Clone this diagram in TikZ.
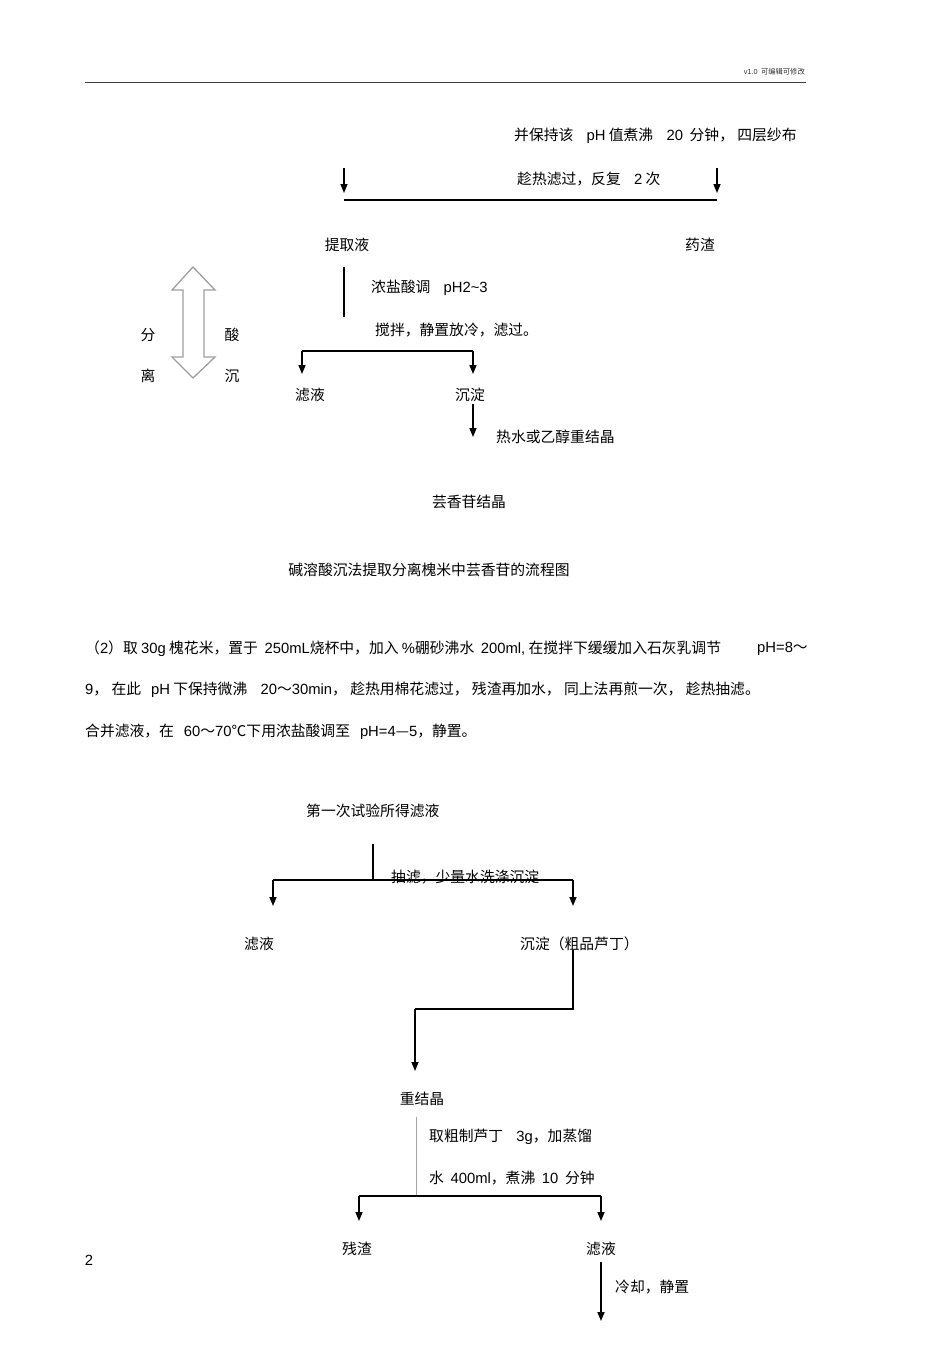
\documentclass[tikz,border=0pt]{standalone}
\usepackage{fontspec}
\setmainfont{Noto Sans CJK SC}
\newfontfamily\lat{Liberation Sans}
\usetikzlibrary{arrows.meta}
\newcommand\LA[1]{{\lat #1}}
\begin{document}
\begin{tikzpicture}[x=1pt,y=-1pt,
  txt/.style={inner sep=0pt, font=\fontsize{14.8}{17}\selectfont},
  lt/.style={txt, anchor=west},
  ln/.style={line width=1.5pt},
  thk/.style={line width=2.2pt},
  arr/.style={ln, -{Triangle[length=9pt,width=7pt]}},
  dbl/.style={draw=gray!75, line width=1.3pt, line join=miter},
]
\fill[white] (0,0) rectangle (950,1345);
\useasboundingbox (0,0) rectangle (950,1345);

% header
\node[inner sep=0pt, anchor=east, font=\fontsize{7.3}{9}\selectfont, text=black!80] (hdr) at (805,72) {\LA{v1.0}\ \ 可编辑可修改};
\coordinate (hl1) at (85,82); \coordinate (hl2) at (806,82);
\draw[line width=1pt, black!75] (hl1) -- (hl2);

% ---------- first flow ----------
\node[lt] (t1) at (514,136) {并保持该\ \ \ \ \LA{pH} 值煮沸\ \ \ \ \LA{20}\ \ 分钟，\ 四层纱布};
\node[lt] (t2) at (517,179) {趁热滤过，反复\ \ \ \ \LA{2} 次};
\coordinate (a1s) at (344,168); \coordinate (a1e) at (344,193);
\coordinate (a2s) at (717,168); \coordinate (a2e) at (717,193);
\draw[arr] (a1s) -- (a1e);
\draw[arr] (a2s) -- (a2e);
\coordinate (h1a) at (344,200); \coordinate (h1b) at (717,200);
\draw[thk] (h1a) -- (h1b);

\node[txt] (tqy) at (347,245) {提取液};
\node[txt] (yz) at (700,245) {药渣};
\coordinate (v1a) at (344,267); \coordinate (v1b) at (344,317);
\draw[ln] (v1a) -- (v1b);
\node[lt] (t3) at (371,288) {浓盐酸调\ \ \ \ \LA{pH2\textasciitilde3}};
\node[lt] (t4) at (375,330) {搅拌，静置放冷，滤过。};
\coordinate (b1l) at (302,351); \coordinate (b1r) at (473,351);
\coordinate (b1le) at (302,374); \coordinate (b1re) at (473,374);
\draw[ln] (b1l) -- (b1r);
\draw[arr] (b1l) -- (b1le);
\draw[arr] (b1r) -- (b1re);
\node[txt] (ly1) at (310,395) {滤液};
\node[txt] (cd1) at (470,395) {沉淀};
\coordinate (a3e) at (473,437);
\draw[arr] (473,404) -- (a3e);
\node[lt] (t5) at (496,437) {热水或乙醇重结晶};
\node[txt] (yxg) at (469,502) {芸香苷结晶};
\node[txt] (cap) at (429,570) {碱溶酸沉法提取分离槐米中芸香苷的流程图};

% double arrow
\draw[dbl] (193,267) -- (215,290) -- (204,290) -- (204,357) -- (215,357) -- (193,378)
  -- (172,357) -- (183,357) -- (183,290) -- (172,290) -- cycle;
\node[txt] (fen) at (148,335) {分};
\node[txt] (li) at (148,376) {离};
\node[txt] (suan) at (232,335) {酸};
\node[txt] (chen) at (232,376) {沉};

% ---------- paragraph ----------
\node[lt] (p1) at (85,649) {（\LA{2}）取 \LA{30g} 槐花米，置于\ \ \LA{250mL}烧杯中，加入 \LA{\%}硼砂沸水\ \ \LA{200ml,} 在搅拌下缓缓加入石灰乳调节};
\node[lt] (p1b) at (757,649) {\LA{pH=8}～};
\node[lt] (p2) at (85,690) {\LA{9}，\ 在此\ \ \ \LA{pH} 下保持微沸\ \ \ \ \LA{20}～\LA{30min}，\ 趁热用棉花滤过，\ 残渣再加水，\ 同上法再煎一次，\ 趁热抽滤。};
\node[lt] (p3) at (85,732) {合并滤液，在\ \ \ \LA{60}～\LA{70}℃下用浓盐酸调至\ \ \ \LA{pH=4}—\LA{5}，静置。};

% ---------- second flow ----------
\node[lt] (t6) at (306,811) {第一次试验所得滤液};
\coordinate (v2a) at (373,844); \coordinate (v2b) at (373,880);
\draw[ln] (v2a) -- (v2b);
\coordinate (b2l) at (273,880); \coordinate (b2r) at (573,880);
\coordinate (b2le) at (273,906); \coordinate (b2re) at (573,906);
\draw[ln] (b2l) -- (b2r);
\draw[arr] (b2l) -- (b2le);
\draw[arr] (b2r) -- (b2re);
\node[lt] (t7) at (391,877) {抽滤，少量水洗涤沉淀};
\node[txt] (ly2) at (259,944) {滤液};
\node[lt] (cd2) at (520,944) {沉淀（粗品芦丁）};
\coordinate (z1) at (573,950); \coordinate (z2) at (573,1009);
\coordinate (z3) at (415,1009); \coordinate (z4) at (415,1071);
\draw[ln] (z1) -- (z2) -- (z3);
\draw[arr] (z3) -- (z4);

\node[txt] (cjj) at (422,1099) {重结晶};
\coordinate (v3a) at (416,1117); \coordinate (v3b) at (416,1196);
\draw[line width=1pt, gray!70] (v3a) -- (v3b);
\node[lt] (t8) at (429,1137) {取粗制芦丁\ \ \ \ \LA{3g}，加蒸馏};
\node[lt] (t9) at (429,1178) {水\ \ \LA{400ml}，煮沸\ \ \LA{10}\ \ 分钟};
\coordinate (b3l) at (359,1196); \coordinate (b3r) at (601,1196);
\coordinate (b3le) at (359,1221); \coordinate (b3re) at (601,1221);
\draw[thk] (b3l) -- (b3r);
\draw[arr] (b3l) -- (b3le);
\draw[arr] (b3r) -- (b3re);
\node[txt] (cz) at (357,1249) {残渣};
\node[txt] (ly3) at (601,1249) {滤液};
\coordinate (a4s) at (601,1262); \coordinate (a4e) at (601,1321);
\draw[arr] (a4s) -- (a4e);
\node[lt] (t10) at (615,1287) {冷却，静置};
\node[txt] (pg) at (89,1260) {\LA{2}};
\end{tikzpicture}
\end{document}
